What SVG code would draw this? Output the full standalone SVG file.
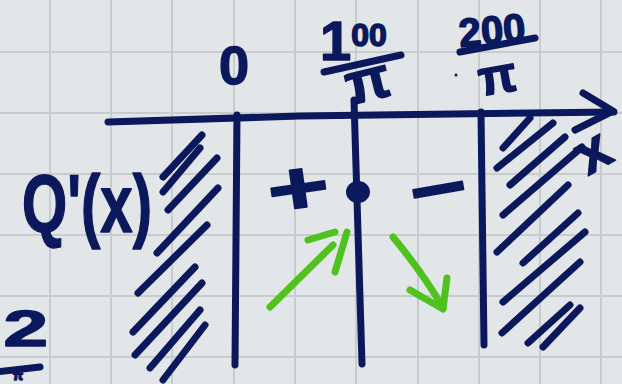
<svg xmlns="http://www.w3.org/2000/svg" width="622" height="384" viewBox="0 0 622 384">
<defs>
<style>
.grid{stroke:#c9ccce;stroke-width:2}
.ink{stroke:#0b195c;stroke-width:7;stroke-linecap:round;stroke-linejoin:round;fill:none}
.green{stroke:#4fc21d;stroke-width:7;stroke-linecap:round;stroke-linejoin:round;fill:none}
.t{font-family:"Liberation Sans","DejaVu Sans",sans-serif;font-weight:bold;fill:#0b195c;stroke:#0b195c;stroke-width:1.5;stroke-linejoin:round}
</style>
</defs>
<rect width="622" height="384" fill="#e3e6e8"/>
<g id="grid">
<path class="grid" d="M50,0V384M111,0V384M172,0V384M234,0V384M295,0V384M356,0V384M418,0V384M479,0V384M540,0V384M601,0V384M0,52H622M0,113H622M0,174H622M0,235H622M0,296H622M0,357H622"/>
</g>
<g id="connectors">
<path class="ink" d="M108,122 L300,116 L614,112"/>
<path class="ink" d="M583,93 L613,111 L575,130"/>
<path class="ink" d="M237,115 L235,365"/>
<path class="ink" d="M354,100 L362,364"/>
<path class="ink" d="M481,112 L484,345"/>
<path class="green" d="M270,307 L333,245"/>
<path class="green" d="M308,240 L335,232 M347,232 L335,272"/>
<path class="green" d="M393,237 C412,260 430,285 443,308"/>
<path class="green" d="M410,290 L443,309 L447,278"/>
</g>
<g id="hatch-left">
<path class="ink" d="M163,177L202,135M163,192L200,148M168,210L217,158M157,253L218,188M138,293L207,225M133,332L195,267M135,355L202,283M150,368L200,310M163,380L205,325"/>
</g>
<g id="hatch-right">
<path class="ink" d="M503,148L530,118M497,168L553,123M510,185L565,137M503,215L582,147M497,252L568,185M523,263L578,213M503,302L585,232M502,333L580,262M528,343L570,305M543,347L580,308"/>
</g>
<g id="label-0">
<text class="t" x="234" y="84" font-size="54" text-anchor="middle">0</text>
</g>
<g id="label-100pi">
<text class="t" x="320" y="60"><tspan font-size="56">1</tspan><tspan font-size="32" dy="-14">00</tspan></text>
<path class="ink" d="M324,72 L401,55"/>
<text class="t" x="0" y="0" font-size="58" text-anchor="middle" transform="translate(372,100) rotate(-14)">π</text>
</g>
<g id="label-200pi">
<text class="t" x="0" y="0" font-size="40" transform="translate(460,47) rotate(-5)">200</text>
<path class="ink" d="M460,52 L535,38"/>
<text class="t" x="0" y="0" font-size="50" text-anchor="middle" transform="translate(500,93) rotate(-10)">π</text>
<circle cx="456" cy="75" r="1.5" fill="#0b195c"/>
</g>
<g id="label-x">
<text class="t" x="0" y="0" font-size="58" text-anchor="middle" transform="translate(602,168) rotate(-30)">x</text>
</g>
<g id="label-Q">
<text class="t" x="22" y="232" font-size="82" textLength="130" lengthAdjust="spacingAndGlyphs">Q'(x)</text>
</g>
<g id="sign-plus">
<text class="t" x="0" y="27" font-size="76" text-anchor="middle" transform="translate(298,187) rotate(-8) scale(1.4,1)">+</text>
</g>
<g id="sign-minus">
<text class="t" x="0" y="27" font-size="76" text-anchor="middle" transform="translate(438,188) rotate(-10) scale(1.3,1)">−</text>
</g>
<g id="dot">
<ellipse cx="358" cy="192" rx="12" ry="11" fill="#0b195c"/>
</g>
<g id="label-partial">
<text class="t" x="0" y="0" font-size="50" text-anchor="end" transform="translate(48,346) scale(1.6,1)">2</text>
<path class="ink" d="M-5,372 L40,367"/>
<text class="t" x="18" y="380" font-size="13" text-anchor="middle">π</text>
</g>
</svg>
